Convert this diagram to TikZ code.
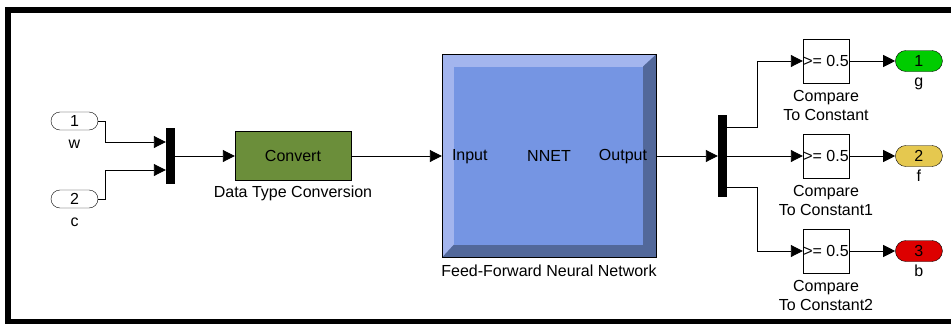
\documentclass[tikz,border=0pt]{standalone}
\usepackage{fontspec}
\setmainfont{Liberation Sans}
\usepackage{tikz}
\usetikzlibrary{arrows.meta}
\usetikzlibrary{positioning}
\definecolor{convgreen}{RGB}{107,142,58}
\definecolor{nnlight}{RGB}{163,181,238}
\definecolor{nnface}{RGB}{117,149,227}
\definecolor{nndark}{RGB}{82,104,154}
\definecolor{outgreen}{RGB}{0,204,0}
\definecolor{outyellow}{RGB}{229,200,79}
\definecolor{outred}{RGB}{221,0,0}

\begin{document}
\begin{tikzpicture}[x=1pt,y=-1pt,
	font=\fontsize{16}{19}\selectfont,
	sig/.style={line width=0.9pt,-{Triangle[length=12pt,width=12pt]}},
	wire/.style={line width=0.9pt},
	inport/.style={draw,fill=white,rounded corners=9pt,minimum width=47pt,minimum height=18pt,inner sep=0pt},
	outport/.style={draw,rounded corners=10.5pt,minimum width=47pt,minimum height=21pt,inner sep=0pt},
	muxbar/.style={fill=black,minimum width=9pt,inner sep=0pt},
	cmpbox/.style={draw,fill=white,minimum width=46pt,minimum height=44pt,inner sep=0pt},
	lbl/.style={inner sep=0pt,text height=11pt,text depth=3pt},
	lbltwo/.style={inner sep=0pt,align=center},
	nnblock/.style={draw,fill=nnlight,minimum width=214pt,minimum height=203pt,inner sep=0pt,
		path picture={
			\fill[nndark] (path picture bounding box.north east) -- (path picture bounding box.south east)
				-- (path picture bounding box.south west) -- ([shift={(12pt,13pt)}]path picture bounding box.south west)
				-- ([shift={(-13pt,13pt)}]path picture bounding box.south east)
				-- ([shift={(-13pt,-12pt)}]path picture bounding box.north east) -- cycle;
			\fill[nnface] ([shift={(12pt,13pt)}]path picture bounding box.south west)
				rectangle ([shift={(-13pt,-12pt)}]path picture bounding box.north east);
		}}]
	\useasboundingbox (0,0) rectangle (951,324);
	\draw[line width=6pt] (951,10) -- (7.5,10) -- (7.5,321.5) -- (951,321.5);

	\node[inport] (in1) at (74.5,121) {1};%w
	\node[inport] (in2) at (74.5,199) {2};%c
	\node[lbl,below=7pt of in1] (in1lbl) {w};
	\node[lbl,below=7pt of in2] (in2lbl) {c};
	\node[muxbar,minimum height=56pt] (mux1) at (170.5,156) {};
	\node[draw,fill=convgreen,minimum width=116pt,minimum height=49pt,inner sep=0pt] (conv) at (293,156) {Convert};
	\node[lbl,below=6pt of conv] (convlbl) {Data Type Conversion};

	\node[nnblock] (nnet) at (549,156) {NNET};
	\node[lbl,anchor=west] (nnin) at ([xshift=10pt]nnet.west) {Input};
	\node[lbl,anchor=east] (nnout) at ([xshift=-9pt]nnet.east) {Output};
	\node[lbl,below=8pt of nnet] (nnetlbl) {Feed-Forward Neural Network};

	\node[muxbar,minimum height=82pt] (mux2) at (722.5,156) {};
	\node[cmpbox] (cmp1) at (826,61) {\textgreater= 0.5};
	\node[cmpbox] (cmp2) at (826,156) {\textgreater= 0.5};
	\node[cmpbox] (cmp3) at (826,251) {\textgreater= 0.5};
	\node[lbltwo,below=7pt of cmp1] (cmp1lbl) {Compare\\To Constant};
	\node[lbltwo,below=7pt of cmp2] (cmp2lbl) {Compare\\To Constant1};
	\node[lbltwo,below=7pt of cmp3] (cmp3lbl) {Compare\\To Constant2};
	\node[outport,fill=outgreen,right=46pt of cmp1] (out1) {1};%g
	\node[outport,fill=outyellow,right=46pt of cmp2] (out2) {2};%f
	\node[outport,fill=outred,right=46pt of cmp3] (out3) {3};%b
	\node[lbl,below=4pt of out1] (out1lbl) {g};
	\node[lbl,below=4pt of out2] (out2lbl) {f};
	\node[lbl,below=4pt of out3] (out3lbl) {b};

	\draw[sig] (in1.east) -- ++(7,0) |- ([yshift=14pt]mux1.west);
	\draw[sig] (in2.east) -- ++(7,0) |- ([yshift=-14pt]mux1.west);
	\draw[sig] (mux1.east) -- (conv.west);
	\draw[sig] (conv.east) -- (nnet.west);
	\draw[sig] (nnet.east) -- (mux2.west);
	\draw[sig] ([yshift=29pt]mux2.east) -- ++(30,0) |- (cmp1.west);
	\draw[sig] (mux2.east) -- (cmp2.west);
	\draw[sig] ([yshift=-31pt]mux2.east) -- ++(30,0) |- (cmp3.west);
	\draw[sig] (cmp1.east) -- (out1.west);
	\draw[sig] (cmp2.east) -- (out2.west);
	\draw[sig] (cmp3.east) -- (out3.west);
\end{tikzpicture}
\end{document}
